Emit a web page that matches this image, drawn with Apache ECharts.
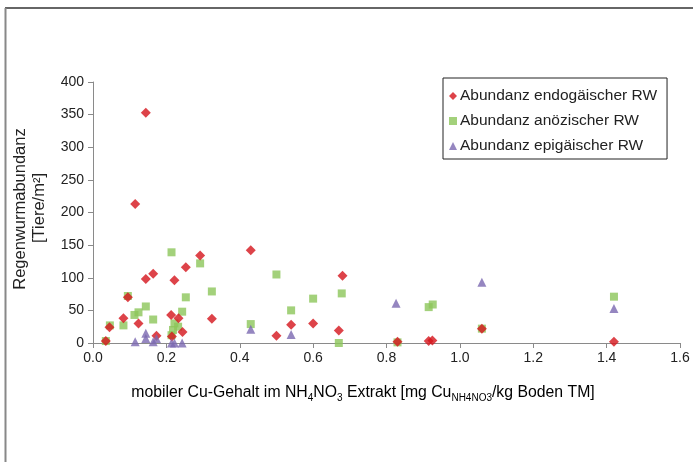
<!DOCTYPE html>
<html><head><meta charset="utf-8">
<script src="https://cdn.jsdelivr.net/npm/echarts@6/dist/echarts.min.js"></script>
<style>html,body{margin:0;padding:0;background:#fff}#c{width:693px;height:462px}</style>
</head><body><div id="c"></div>
<script>
// Abundanz endogäischer RW
const endoX = [0.035,0.045,0.083,0.095,0.115,0.124,0.144,0.144,0.164,0.173,0.213,0.222,0.233,0.244,0.215,0.253,0.292,0.324,0.43,0.50,0.54,0.60,0.67,0.68,0.83,0.915,0.925,1.06,1.42];
const endoY = [3,24,38,70,213,30,353,98,106,11,43,96,38,17,10,116,134,37,142,11,28,30,19,103,2,3,4,22,2];
// Abundanz anözischer RW
const aneX = [0.035,0.046,0.083,0.095,0.113,0.124,0.144,0.164,0.214,0.214,0.218,0.222,0.232,0.243,0.253,0.292,0.324,0.43,0.50,0.54,0.60,0.67,0.678,0.83,0.915,0.926,1.06,1.42];
const aneY = [3,27,27,72,43,47,56,36,139,12,20,30,25,48,70,122,79,29,105,50,68,0,76,1,55,59,22,71];
// Abundanz epigäischer RW
const epiX = [0.115,0.144,0.144,0.164,0.173,0.214,0.222,0.243,0.43,0.54,0.826,1.06,1.42];
const epiY = [2,15,7,2,7,0,0,0,21,13,61,93,53];

const seriesNames = ['Abundanz endogäischer RW','Abundanz anözischer RW','Abundanz epigäischer RW'];
const xTicks = {min:0, max:1.6, interval:0.2};
const yTicks = {min:0, max:400, interval:50};

const FONT = '"Liberation Sans", Arial, sans-serif';
const pairs = (xs, ys) => xs.map((x, i) => [x, ys[i]]);

const chart = echarts.init(document.getElementById('c'));
chart.setOption({
  animation: false,
  backgroundColor: '#fff',
  textStyle: {fontFamily: FONT},
  grid: {left: 93, right: 13, top: 82, bottom: 119},
  xAxis: {
    type: 'value', min: xTicks.min, max: xTicks.max, interval: xTicks.interval,
    splitLine: {show: false},
    axisLine: {lineStyle: {color: '#8a8a8a', width: 1}},
    axisTick: {show: true, length: 5, lineStyle: {color: '#8a8a8a'}},
    axisLabel: {fontFamily: FONT, fontSize: 14, color: '#222', margin: 8, formatter: v => v.toFixed(1)}
  },
  yAxis: {
    type: 'value', min: yTicks.min, max: yTicks.max, interval: yTicks.interval,
    splitLine: {show: false},
    axisLine: {show: true, lineStyle: {color: '#8a8a8a', width: 1}},
    axisTick: {show: true, length: 5, lineStyle: {color: '#8a8a8a'}},
    axisLabel: {fontFamily: FONT, fontSize: 14, color: '#222', margin: 9}
  },
  legend: {
    orient: 'vertical', left: 443, top: 78,
    data: seriesNames,
    itemWidth: 8, itemHeight: 8, itemGap: 9,
    padding: [10, 10, 5, 6],
    borderColor: '#222', borderWidth: 1,
    textStyle: {fontFamily: FONT, fontSize: 15.5, color: '#222', padding: [0,0,0,-2], width: 208}
  },
  series: [
    {name: seriesNames[1], type: 'scatter', symbol: 'rect', symbolSize: 8, z: 2,
     itemStyle: {color: '#8cc55a'}, data: pairs(aneX, aneY)},
    {name: seriesNames[0], type: 'scatter', symbol: 'diamond', symbolSize: 10, z: 3,
     itemStyle: {color: '#d5141b'}, data: pairs(endoX, endoY)},
    {name: seriesNames[2], type: 'scatter', symbol: 'triangle', symbolSize: 9, z: 4,
     itemStyle: {color: '#7b68b0'}, data: pairs(epiX, epiY)}
  ],
  graphic: [
    {type: 'line', shape: {x1: 5, y1: 8, x2: 693, y2: 8}, style: {stroke: '#333', lineWidth: 1.5}},
    {type: 'line', shape: {x1: 5.5, y1: 8, x2: 5.5, y2: 462}, style: {stroke: '#888', lineWidth: 2}},
    {type: 'text', x: 20, y: 209, rotation: Math.PI/2,
     style: {text: 'Regenwurmabundanz', font: '16.5px ' + FONT, fill: '#222', textAlign: 'center', textVerticalAlign: 'middle'}},
    {type: 'text', x: 39, y: 208, rotation: Math.PI/2,
     style: {text: '[Tiere/m²]', font: '16.5px ' + FONT, fill: '#222', textAlign: 'center', textVerticalAlign: 'middle'}},
    {type: 'text', x: 363, y: 393,
     style: {
       text: '{m|mobiler Cu-Gehalt im NH}{s|4}{m|NO}{s|3}{m| Extrakt [mg Cu}{s|NH4NO3}{m|/kg Boden TM]}',
       textAlign: 'center', textVerticalAlign: 'middle',
       rich: {
         m: {fontFamily: FONT, fontSize: 15.8, color: '#222', lineHeight: 20},
         s: {fontFamily: FONT, fontSize: 10, color: '#222', lineHeight: 20, verticalAlign: 'bottom', padding: [7,0,0,0]}
       }
     }}
  ]
});
</script></body></html>
